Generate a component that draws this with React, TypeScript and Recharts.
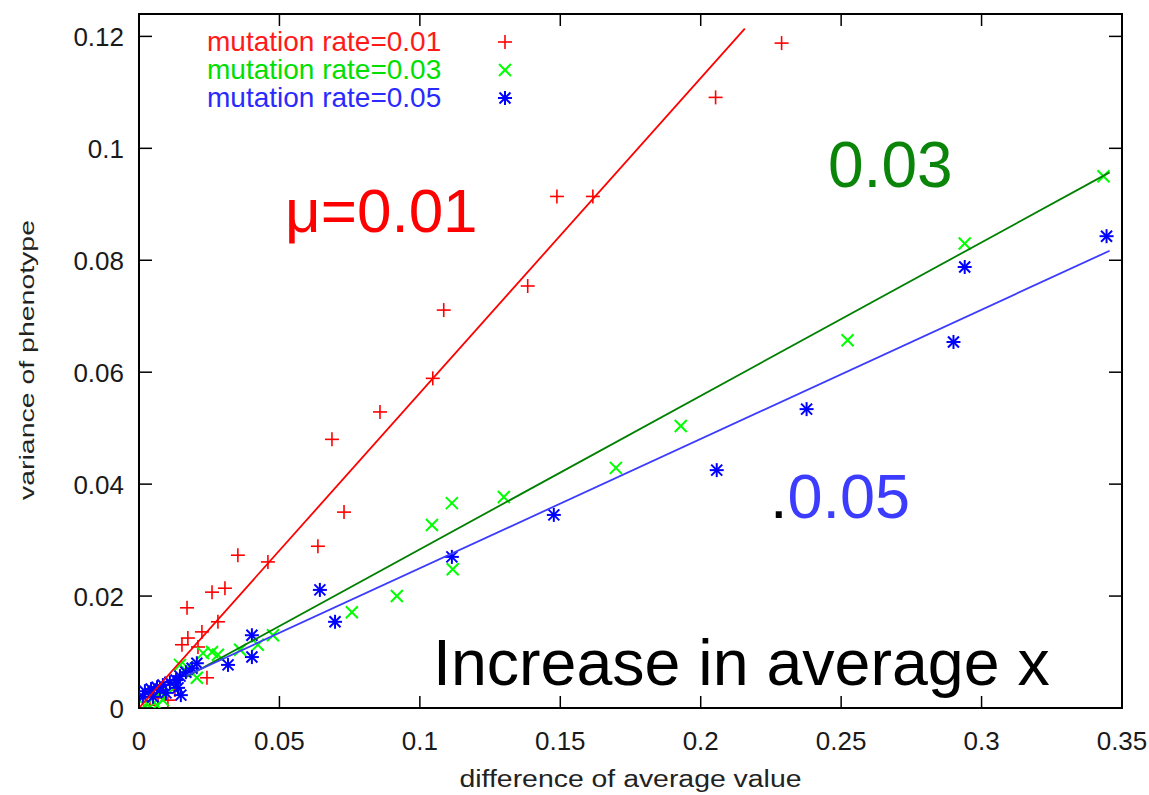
import React from "react";
import { ScatterChart, Scatter, XAxis, YAxis, Legend, Label, ReferenceArea } from "recharts";

// tick values
const xTicks = [0, 0.05, 0.1, 0.15, 0.2, 0.25, 0.3, 0.35];
const yTicks = [0, 0.02, 0.04, 0.06, 0.08, 0.1, 0.12];

// mutation rate = 0.01 (red +)
const rate01 = [
  { x: 0.2288, y: 0.1188 }, { x: 0.2053, y: 0.1091 }, { x: 0.1616, y: 0.0914 },
  { x: 0.1488, y: 0.0914 }, { x: 0.1384, y: 0.0754 }, { x: 0.1085, y: 0.0711 },
  { x: 0.1046, y: 0.0589 }, { x: 0.0858, y: 0.0529 }, { x: 0.0687, y: 0.048 },
  { x: 0.073, y: 0.035 }, { x: 0.0637, y: 0.0289 }, { x: 0.0459, y: 0.0261 },
  { x: 0.0352, y: 0.0273 }, { x: 0.0306, y: 0.0214 }, { x: 0.026, y: 0.0207 },
  { x: 0.0171, y: 0.0179 }, { x: 0.0281, y: 0.0154 }, { x: 0.0224, y: 0.0136 },
  { x: 0.0174, y: 0.0125 }, { x: 0.0153, y: 0.0113 }, { x: 0.021, y: 0.0109 },
  { x: 0.0242, y: 0.0054 }, { x: 0.0103, y: 0.0014 }, { x: 0.0039, y: 0.0005 },
  { x: 0.0068, y: 0.0018 }, { x: 0.0128, y: 0.0032 },
];

// mutation rate = 0.03 (green x)
const rate03 = [
  { x: 0.3434, y: 0.095 }, { x: 0.294, y: 0.083 }, { x: 0.2523, y: 0.0657 },
  { x: 0.1929, y: 0.0504 }, { x: 0.1698, y: 0.0429 }, { x: 0.1299, y: 0.0377 },
  { x: 0.1114, y: 0.0366 }, { x: 0.1043, y: 0.0327 }, { x: 0.1117, y: 0.0248 },
  { x: 0.0918, y: 0.02 }, { x: 0.0758, y: 0.0171 }, { x: 0.0477, y: 0.013 },
  { x: 0.0423, y: 0.0113 }, { x: 0.036, y: 0.0104 }, { x: 0.0281, y: 0.0095 },
  { x: 0.026, y: 0.01 }, { x: 0.0228, y: 0.0098 }, { x: 0.0206, y: 0.0054 },
  { x: 0.0171, y: 0.0073 }, { x: 0.0146, y: 0.0077 }, { x: 0.0128, y: 0.0038 },
  { x: 0.0075, y: 0.0029 }, { x: 0.0085, y: 0.0014 }, { x: 0.0039, y: 0.0002 },
  { x: 0.0064, y: 0.0005 }, { x: 0.0021, y: 0.0004 },
];

// mutation rate = 0.05 (blue *)
const rate05 = [
  { x: 0.3445, y: 0.0843 }, { x: 0.294, y: 0.0788 }, { x: 0.29, y: 0.0654 },
  { x: 0.2377, y: 0.0534 }, { x: 0.2057, y: 0.0425 }, { x: 0.1477, y: 0.0345 },
  { x: 0.1114, y: 0.027 }, { x: 0.0698, y: 0.0154 }, { x: 0.0644, y: 0.0211 },
  { x: 0.0402, y: 0.013 }, { x: 0.0402, y: 0.0091 }, { x: 0.0317, y: 0.0077 },
  { x: 0.0206, y: 0.008 }, { x: 0.0189, y: 0.0071 }, { x: 0.0167, y: 0.0064 },
  { x: 0.0146, y: 0.0057 }, { x: 0.0132, y: 0.005 }, { x: 0.011, y: 0.0046 },
  { x: 0.0085, y: 0.0041 }, { x: 0.0064, y: 0.0037 }, { x: 0.0043, y: 0.0034 },
  { x: 0.0021, y: 0.003 }, { x: 0.0014, y: 0.002 }, { x: 0.005, y: 0.002 },
  { x: 0.0096, y: 0.0027 }, { x: 0.0139, y: 0.0036 }, { x: 0.0149, y: 0.0023 },
  { x: 0.0075, y: 0.0032 },
];

// fitted lines (end points)
const fit01 = [{ x: 0, y: 0 }, { x: 0.2157, y: 0.1214 }];
const fit03 = [{ x: 0.017, y: 0.0056 }, { x: 0.3456, y: 0.0957 }];
const fit05 = [{ x: 0.017, y: 0.0058 }, { x: 0.3456, y: 0.0817 }];

const seriesNames = ["mutation rate=0.01", "mutation rate=0.03", "mutation rate=0.05"];

const FONT = "'Liberation Sans', Arial, Helvetica, sans-serif";

const Plus = ({ cx, cy, color = "#ff0000" }: any) => (
  <g stroke={color} strokeWidth={1.6}>
    <line x1={cx - 7} y1={cy} x2={cx + 7} y2={cy} />
    <line x1={cx} y1={cy - 7} x2={cx} y2={cy + 7} />
  </g>
);

const Cross = ({ cx, cy, color = "#00ff00" }: any) => (
  <g stroke={color} strokeWidth={2}>
    <line x1={cx - 6} y1={cy - 6} x2={cx + 6} y2={cy + 6} />
    <line x1={cx - 6} y1={cy + 6} x2={cx + 6} y2={cy - 6} />
  </g>
);

const Star = ({ cx, cy, color = "#0000ff" }: any) => (
  <g stroke={color} strokeWidth={2}>
    <line x1={cx - 7} y1={cy} x2={cx + 7} y2={cy} />
    <line x1={cx} y1={cy - 7} x2={cx} y2={cy + 7} />
    <line x1={cx - 5.5} y1={cy - 5.5} x2={cx + 5.5} y2={cy + 5.5} />
    <line x1={cx - 5.5} y1={cy + 5.5} x2={cx + 5.5} y2={cy - 5.5} />
  </g>
);

const markers = [Plus, Cross, Star];
const legendTextColors = ["#ff1a1a", "#00e000", "#2a2aff"];

const fmt = (v: number) => String(v);

const BottomTick = ({ x, y, payload }: any) => (
  <g>
    <line x1={x} y1={y} x2={x} y2={y - 12} stroke="#000" strokeWidth={1.5} />
    <text x={x} y={y + 42} textAnchor="middle" fontSize={26} fontFamily={FONT} fill="#1a1a1a">
      {fmt(payload.value)}
    </text>
  </g>
);

const TopTick = ({ x, y }: any) => (
  <line x1={x} y1={y} x2={x} y2={y + 12} stroke="#000" strokeWidth={1.5} />
);

const LeftTick = ({ x, y, payload }: any) => (
  <g>
    <line x1={x} y1={y} x2={x + 13} y2={y} stroke="#000" strokeWidth={1.5} />
    <text x={x - 15} y={y + 9.5} textAnchor="end" fontSize={26} fontFamily={FONT} fill="#1a1a1a">
      {fmt(payload.value)}
    </text>
  </g>
);

const RightTick = ({ x, y }: any) => (
  <line x1={x} y1={y} x2={x - 13} y2={y} stroke="#000" strokeWidth={1.5} />
);

const XTitle = ({ viewBox }: any) => (
  <text
    x={viewBox.x + viewBox.width / 2}
    y={viewBox.y + 79}
    textAnchor="middle"
    fontSize={23}
    fontFamily={FONT}
    fill="#222"
    textLength={342}
    lengthAdjust="spacingAndGlyphs"
  >
    difference of average value
  </text>
);

const YTitle = ({ viewBox }: any) => {
  const cx = viewBox.x + 34;
  const cy = viewBox.y + viewBox.height / 2 - 1;
  return (
    <text
      x={cx}
      y={cy}
      transform={`rotate(-90, ${cx}, ${cy})`}
      textAnchor="middle"
      fontSize={21}
      fontFamily={FONT}
      fill="#222"
      textLength={280}
      lengthAdjust="spacingAndGlyphs"
    >
      variance of phenotype
    </text>
  );
};

const renderLegend = () => (
  <div style={{ fontFamily: FONT, fontSize: 28, lineHeight: "28px" }}>
    {seriesNames.map((name, i) => {
      const M = markers[i];
      return (
        <div key={name} style={{ position: "relative", height: 28, whiteSpace: "nowrap" }}>
          <span style={{ color: legendTextColors[i] }}>{name}</span>
          <svg width={20} height={20} style={{ position: "absolute", left: 288, top: 4 }}>
            <M cx={10} cy={10} />
          </svg>
        </div>
      );
    })}
  </div>
);

export default function App() {
  return (
    <div style={{ position: "absolute", left: 0, top: 0, width: 1149, height: 795, background: "#fff" }}>
      <ScatterChart width={1149} height={795} margin={{ top: 13, right: 26, bottom: 0, left: 0 }}>
        <XAxis
          dataKey="x"
          type="number"
          domain={[0, 0.35]}
          allowDataOverflow
          ticks={xTicks}
          interval={0}
          height={87}
          tickSize={0}
          tickMargin={0}
          tickLine={false}
          tick={BottomTick}
          axisLine={{ stroke: "#000", strokeWidth: 2 }}
        >
          <Label content={XTitle} />
        </XAxis>
        <XAxis
          xAxisId="top"
          dataKey="x"
          orientation="top"
          type="number"
          domain={[0, 0.35]}
          allowDataOverflow
          ticks={xTicks}
          interval={0}
          height={1}
          tickSize={0}
          tickMargin={0}
          tickLine={false}
          tick={TopTick}
          axisLine={false}
        />
        <YAxis
          dataKey="y"
          type="number"
          domain={[0, 0.124]}
          allowDataOverflow
          ticks={yTicks}
          interval={0}
          width={139}
          tickSize={0}
          tickMargin={0}
          tickLine={false}
          tick={LeftTick}
          axisLine={{ stroke: "#000", strokeWidth: 2 }}
        >
          <Label content={YTitle} />
        </YAxis>
        <YAxis
          yAxisId="right"
          dataKey="y"
          orientation="right"
          type="number"
          domain={[0, 0.124]}
          allowDataOverflow
          ticks={yTicks}
          interval={0}
          width={1}
          tickSize={0}
          tickMargin={0}
          tickLine={false}
          tick={RightTick}
          axisLine={false}
        />
        <Legend
          layout="horizontal"
          verticalAlign="middle"
          align="center"
          content={renderLegend}
          wrapperStyle={{ left: 207, top: 28, width: 320, height: 84, margin: 0 }}
        />

        {/* plot frame */}
        <ReferenceArea x1={0} x2={0.35} y1={0} y2={0.124} fill="none" fillOpacity={0}
          stroke="#000" strokeWidth={2} />

        <Scatter name={seriesNames[0]} data={rate01} fill="#ff0000" isAnimationActive={false}
          shape={(p: any) => <Plus cx={p.cx} cy={p.cy} />} />
        <Scatter name={seriesNames[1]} data={rate03} fill="#00ff00" isAnimationActive={false}
          shape={(p: any) => <Cross cx={p.cx} cy={p.cy} />} />
        <Scatter name={seriesNames[2]} data={rate05} fill="#0000ff" isAnimationActive={false}
          shape={(p: any) => <Star cx={p.cx} cy={p.cy} />} />

        <Scatter data={fit01} legendType="none" isAnimationActive={false}
          line={{ stroke: "#ff0000", strokeWidth: 1.8 }} shape={() => <g />} />
        <Scatter data={fit03} legendType="none" isAnimationActive={false}
          line={{ stroke: "#008000", strokeWidth: 1.8 }} shape={() => <g />} />
        <Scatter data={fit05} xAxisId="top" yAxisId="right" legendType="none" isAnimationActive={false}
          line={{ stroke: "#3c3cff", strokeWidth: 1.8 }} shape={() => <g />} />
      </ScatterChart>

      {/* slide annotations */}
      <svg width={1149} height={795} style={{ position: "absolute", left: 0, top: 0, pointerEvents: "none" }}>
        <text x={285} y={232} fontSize={62} fontFamily={FONT} fill="#ff0000">μ=0.01</text>
        <text x={828} y={187} fontSize={64} fontFamily={FONT} fill="#0a850a">0.03</text>
        <text x={770} y={518} fontSize={63} fontFamily={FONT}>
          <tspan fill="#000">.</tspan>
          <tspan fill="#3c3cff">0.05</tspan>
        </text>
        <text x={433} y={685} fontSize={64.5} fontFamily={FONT} fill="#000">Increase in average x</text>
      </svg>
    </div>
  );
}
